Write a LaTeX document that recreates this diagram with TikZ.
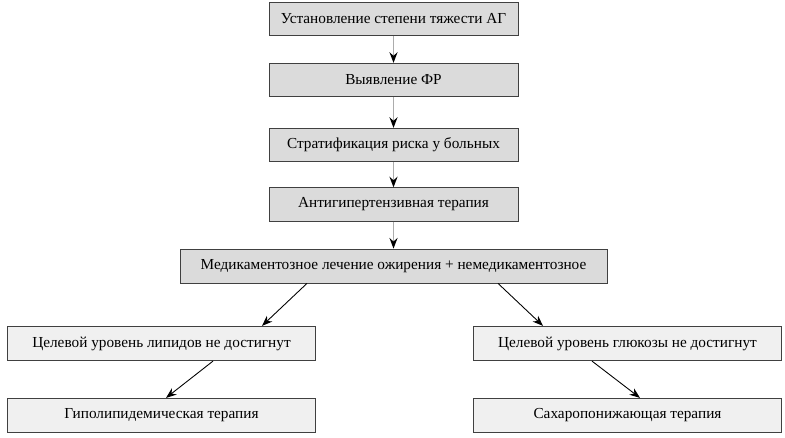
\documentclass[tikz,border=0pt]{standalone}
\usepackage{fontspec}
\setmainfont{Liberation Serif}
\usetikzlibrary{arrows.meta}
\colorlet{stage edge}{black!75}
\colorlet{stage area}{black!14}
\colorlet{result area}{black!6}
\tikzset{
  stage/.style={draw=stage edge, fill=stage area, inner sep=0pt,
    minimum width=4.98cm, minimum height=0.67cm,
    font=\fontsize{8.7}{10}\selectfont},
  result/.style={stage, fill=result area, minimum width=6.16cm, minimum height=0.69cm}
  }
\tikzstyle{down} = [draw, gray!65, line width=1.1pt, -{Stealth[black, length=6pt, width=4.5pt]}]
\tikzstyle{branch} = [draw, black, line width=0.5pt, -{Stealth[length=6pt, width=4.5pt]}]
\def\stages{{19/degree/Установление степени тяжести АГ}, {80/risk/Выявление ФР}, {145/strat/Стратификация риска у больных}, {204.5/anti/Антигипертензивная терапия}}

\begin{document}
\begin{tikzpicture}[x=0.02cm, y=-0.02cm]

    \useasboundingbox (0,0) rectangle (785,437);

    % The main steps
    \foreach \ypos/\name/\text in \stages
      \node[stage] (\name) at (393.5,\ypos) {\text};

    \node[stage, minimum width=8.54cm, minimum height=0.68cm] (obes) at (393.5,266)
      {Медикаментозное лечение ожирения + немедикаментозное};

    % the two branches
    \node[result] (lipid) at (161.5,343.5) {Целевой уровень липидов не достигнут};
    \node[result] (gluc) at (627.5,343.5) {Целевой уровень глюкозы не достигнут};
    \node[result] (hypo) at (161.5,415.5) {Гиполипидемическая терапия};
    \node[result] (sugar) at (627.5,415.5) {Сахаропонижающая терапия};

    % The connections between them
    \foreach \source/\sink in {degree/risk, risk/strat, strat/anti, anti/obes}
      \path[down] (\source) -- (\sink);

    \path[branch] ([xshift=-1.73cm]obes.south) -- ([xshift=2.01cm]lipid.north);
    \path[branch] ([xshift=2.09cm]obes.south) -- ([xshift=-1.69cm]gluc.north);
    \path[branch] ([xshift=1.03cm]lipid.south) -- ([xshift=0.09cm]hypo.north);
    \path[branch] ([xshift=-0.71cm]gluc.south) -- ([xshift=0.25cm]sugar.north);

\end{tikzpicture}
\end{document}
